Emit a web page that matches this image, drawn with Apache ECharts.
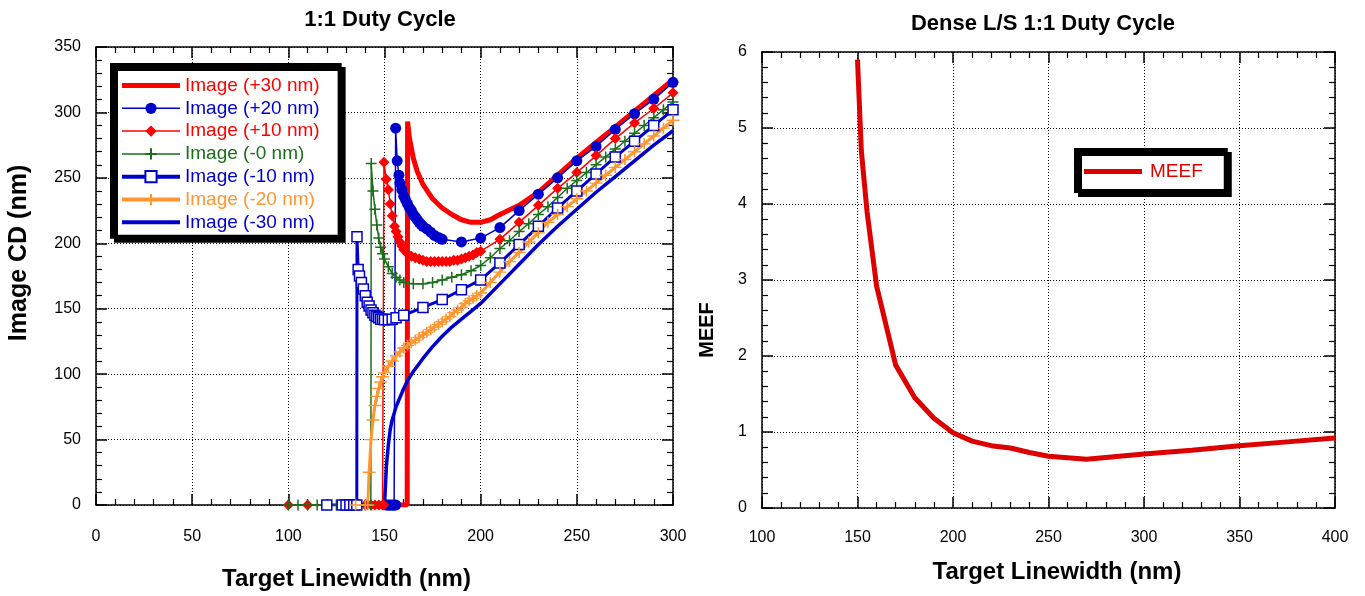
<!DOCTYPE html>
<html>
<head>
<meta charset="utf-8">
<script src="https://cdn.jsdelivr.net/npm/echarts@6/dist/echarts.min.js"></script>
<style>
  html, body { margin: 0; padding: 0; background: #ffffff; }
  #chart { width: 1365px; height: 596px; }
</style>
</head>
<body>
<div id="chart"></div>
<script>
// ---- Image CD vs target linewidth, one curve per focus offset ----
const p30X = [145, 150, 155, 161.8, 162, 163, 165, 167, 170, 175, 180, 185, 190, 195, 200, 205, 210, 220, 230, 240, 250, 260, 270, 280, 290, 300];
const p30Y = [0, 0, 0, 0, 293, 280, 265, 255, 245, 234, 227, 222, 218, 216, 216, 218, 222, 229, 239, 252, 265, 277, 289, 301, 313, 325];

const p20X = [151, 152, 153, 154, 155, 155.8, 155.8, 156.6, 157.5, 158, 159, 160, 161, 162, 163, 164, 165, 166, 167, 168, 169, 170, 172, 174, 176, 178, 180, 190, 200, 210, 220, 230, 240, 250, 260, 270, 280, 290, 300];
const p20Y = [0, 0, 0, 0, 0, 0, 288, 263, 252, 246, 241, 236, 233, 230, 227, 225, 222, 220, 218, 216, 214.5, 213, 211, 208.5, 206, 204.5, 203, 201, 204, 212, 225, 237.5, 250, 263, 274, 287, 299, 310, 323];

const p10X = [100, 110, 120, 130, 140, 143, 145, 147, 149, 149.6, 149.7, 150.9, 152, 153, 154, 155.2, 156, 157, 158, 159, 160, 162, 164, 166, 168, 170, 172, 174, 176, 178, 180, 182, 184, 186, 188, 190, 192, 194, 196, 198, 200, 210, 220, 230, 240, 250, 260, 270, 280, 290, 300];
const p10Y = [0, 0, 0, 0, 0, 0, 0, 0, 0, 0, 262, 249, 241, 230, 221, 213, 209, 205, 201, 198, 195, 192, 190, 189, 188, 187, 186, 186, 186, 186, 186, 186, 186, 187, 187, 188, 189, 190, 191, 193, 194, 203, 216, 229, 242, 254, 267, 280, 292, 303, 315];

const m0X = [100, 105, 110, 115, 120, 125, 130, 135, 140, 142.9, 143.1, 144, 145, 146, 147, 148, 149, 150, 152, 154, 156, 158, 160, 165, 170, 175, 180, 185, 190, 195, 200, 205, 210, 215, 220, 225, 230, 235, 240, 245, 250, 255, 260, 265, 270, 275, 280, 285, 290, 295, 300];
const m0Y = [0, 0, 0, 0, 0, 0, 0, 0, 0, 0, 261, 240, 226, 214, 204, 197, 192, 188, 182, 177, 174, 172, 170, 169, 169, 170, 172, 174, 176, 179, 183, 189, 196, 202, 209, 215, 222, 228, 235, 242, 248, 254, 260, 266, 272, 278, 284, 290, 296, 302, 308];

const m10X = [120, 128, 130, 132, 134, 135.6, 135.7, 136.3, 137, 138, 139, 140, 141, 142, 143, 144, 145, 146, 147, 148, 149, 150, 152, 154, 156, 160, 170, 180, 190, 200, 210, 220, 230, 240, 250, 260, 270, 280, 290, 300];
const m10Y = [0, 0, 0, 0, 0, 0, 205, 180, 175, 170, 165, 160, 155, 152, 149, 147, 145, 144, 143, 142, 142, 141.5, 141.5, 142, 143, 145, 151, 157, 164.5, 172, 185, 199, 213, 227, 240, 253, 266, 278, 290, 302];

const m20X = [135, 140, 141.3, 142, 143, 144, 145, 146, 147, 148, 149, 150, 152, 154, 156, 158, 160, 162, 164, 166, 168, 170, 172, 174, 176, 178, 180, 182, 184, 186, 188, 190, 192, 194, 196, 198, 200, 205, 210, 215, 220, 225, 230, 235, 240, 245, 250, 255, 260, 265, 270, 275, 280, 285, 290, 295, 300];
const m20Y = [0, 0, 0, 25, 50, 65, 76, 83, 89, 94, 98, 101, 106, 110, 114, 117, 120, 122, 124, 126, 128, 130, 132, 134, 136, 138, 140, 142, 144, 147, 149, 151, 154, 156, 158, 160, 162, 170, 178, 186, 193, 201, 208, 216, 222, 228, 234, 240, 246, 252, 258, 264, 270, 276, 282, 288, 294];

const m30X = [140, 145, 150, 150.5, 151, 152, 153, 154, 155, 156, 157, 158, 160, 162, 165, 170, 175, 180, 185, 190, 195, 200, 210, 220, 230, 240, 250, 260, 270, 280, 290, 300];
const m30Y = [0, 0, 0, 15, 30, 46, 58, 65, 70, 75, 78.5, 82, 89, 95, 102, 112, 121, 129, 136, 142, 148, 154, 169, 184, 199, 213, 226, 239, 251, 263, 275, 286];

// ---- MEEF vs target linewidth ----
const meefX = [150, 152, 155, 160, 170, 180, 190, 200, 210, 220, 230, 240, 250, 270, 300, 325, 350, 375, 400];
const meefY = [5.9, 4.7, 3.9, 2.92, 1.88, 1.45, 1.18, 0.99, 0.88, 0.82, 0.79, 0.73, 0.68, 0.64, 0.71, 0.76, 0.82, 0.87, 0.92];

const seriesNames = ['Image (+30 nm)', 'Image (+20 nm)', 'Image (+10 nm)', 'Image (-0 nm)', 'Image (-10 nm)', 'Image (-20 nm)', 'Image (-30 nm)'];

const RED = '#ff0000', BLUE = '#0000cc', GREEN = '#1b6e1b', ORANGE = '#ff9630', MEEF_RED = '#dd0000';
const FONT = "'Liberation Sans', Arial, sans-serif";
const PLUS = 'path://M0,5L10,5M5,0L5,10';
const bar = (h) => 'path://M0,0H58V' + h + 'H0Z';   // plain line swatch for marker-less curves

const zip = (xs, ys) => xs.map((x, i) => [x, ys[i]]);

function boxAxes(gridIndex, min, max, interval, isX, withLabels) {
  return {
    type: 'value', gridIndex, min, max, interval,
    axisLine: { show: true, onZero: false, lineStyle: { color: '#000', width: 1.5 } },
    axisTick: { show: true, inside: true, length: 11, lineStyle: { color: '#000', width: 1.5 } },
    minorTick: { show: true, splitNumber: 5, length: 6, lineStyle: { color: '#000', width: 1.2 } },
    axisLabel: withLabels
      ? { show: true, color: '#000', fontFamily: FONT, fontSize: 16, margin: isX ? 24 : 15 }
      : { show: false },
    splitLine: withLabels
      ? { show: true, lineStyle: { color: '#000', width: 1, type: [1, 2] } }
      : { show: false }
  };
}

const nameStyle = (size, pad) => ({ color: '#000', fontFamily: FONT, fontSize: size, fontWeight: 'bold', padding: pad });

const xA0 = Object.assign(boxAxes(0, 0, 300, 50, true, true), {
  position: 'bottom', name: 'Target Linewidth (nm)', nameLocation: 'middle', nameGap: 62, nameTextStyle: nameStyle(24, [0, 76, 0, 0])
});
const xA1 = Object.assign(boxAxes(0, 0, 300, 50, true, false), { position: 'top' });
const xA2 = Object.assign(boxAxes(1, 100, 400, 50, true, true), {
  position: 'bottom', name: 'Target Linewidth (nm)', nameLocation: 'middle', nameGap: 52, nameTextStyle: nameStyle(24, [0, 0, 0, 17])
});
xA2.axisLabel.margin = 22;
const xA3 = Object.assign(boxAxes(1, 100, 400, 50, true, false), { position: 'top' });

const yA0 = Object.assign(boxAxes(0, 0, 350, 50, false, true), {
  position: 'left', name: 'Image CD (nm)', nameLocation: 'middle', nameGap: 64, nameTextStyle: nameStyle(25, [0, 0, 0, 46])
});
const yA1 = Object.assign(boxAxes(0, 0, 350, 50, false, false), { position: 'right' });
const yA2 = Object.assign(boxAxes(1, 0, 6, 1, false, true), {
  position: 'left', name: 'MEEF', nameLocation: 'middle', nameGap: 45, nameTextStyle: nameStyle(20, [0, 100, 0, 0])
});
const yA3 = Object.assign(boxAxes(1, 0, 6, 1, false, false), { position: 'right' });

function curve(name, xs, ys, color, width, symbol, size, symbolFill, borderW) {
  return {
    name, type: 'line', xAxisIndex: 0, yAxisIndex: 0,
    data: zip(xs, ys),
    showAllSymbol: true,
    symbol: symbol || 'none',
    symbolSize: size || 0,
    lineStyle: { color, width },
    itemStyle: { color: symbolFill || color, borderColor: color, borderWidth: borderW || 0 },
    emphasis: { disabled: true },
    z: 3
  };
}

const legendColors = [RED, BLUE, RED, GREEN, BLUE, ORANGE, BLUE];
const legendWidths = [5, 1.5, 1.5, 1.5, 4, 4, 4];
const legendIcons = [bar(5), null, null, null, null, null, bar(4)];

const chart = echarts.init(document.getElementById('chart'), null, { renderer: 'canvas' });

chart.setOption({
  animation: false,
  backgroundColor: '#ffffff',
  textStyle: { fontFamily: FONT },
  title: [
    { text: '1:1 Duty Cycle', left: 375, top: 4, textAlign: 'center',
      textStyle: { fontFamily: FONT, fontSize: 22, fontWeight: 'bold', color: '#000' } },
    { text: 'Dense L/S 1:1 Duty Cycle', left: 1038, top: 8, textAlign: 'center',
      textStyle: { fontFamily: FONT, fontSize: 22, fontWeight: 'bold', color: '#000' } }
  ],
  grid: [
    { left: 96, right: 692, top: 47, bottom: 91 },
    { left: 762, right: 30, top: 52, bottom: 88 }
  ],
  xAxis: [xA0, xA1, xA2, xA3],
  yAxis: [yA0, yA1, yA2, yA3],
  legend: [
    {
      orient: 'vertical', left: 112, top: 65,
      itemWidth: 58, itemHeight: 14, itemGap: 3.8,
      padding: [11, 20, 5, 8],
      backgroundColor: '#ffffff', borderColor: '#000', borderWidth: 4,
      shadowColor: '#000', shadowBlur: 0, shadowOffsetX: 4, shadowOffsetY: 4,
      selectedMode: false,
      textStyle: { fontFamily: FONT, fontSize: 19, lineHeight: 19 },
      data: seriesNames.map((n, i) => {
        const item = { name: n, textStyle: { color: legendColors[i] }, lineStyle: { width: legendWidths[i] } };
        if (legendIcons[i]) item.icon = legendIcons[i];
        return item;
      })
    },
    {
      orient: 'vertical', left: 1076, top: 150,
      itemWidth: 58, itemHeight: 14,
      padding: [12, 23, 10, 8],
      backgroundColor: '#ffffff', borderColor: '#000', borderWidth: 4,
      shadowColor: '#000', shadowBlur: 0, shadowOffsetX: 4, shadowOffsetY: 4,
      selectedMode: false,
      textStyle: { fontFamily: FONT, fontSize: 19, lineHeight: 18, color: MEEF_RED, padding: [0, 0, 0, 3] },
      data: [{ name: 'MEEF', icon: bar(5) }]
    }
  ],
  series: [
    curve(seriesNames[0], p30X, p30Y, RED, 5),
    curve(seriesNames[1], p20X, p20Y, BLUE, 1.5, 'circle', 11, BLUE, 0),
    curve(seriesNames[2], p10X, p10Y, RED, 1.5, 'diamond', 11, RED, 0),
    curve(seriesNames[3], m0X, m0Y, GREEN, 1.5, PLUS, [11, 11], 'rgba(0,0,0,0)', 1.5),
    curve(seriesNames[4], m10X, m10Y, BLUE, 3, 'rect', 10, '#ffffff', 1.5),
    curve(seriesNames[5], m20X, m20Y, ORANGE, 3, PLUS, [13, 11], 'rgba(0,0,0,0)', 1.5),
    curve(seriesNames[6], m30X, m30Y, BLUE, 3.5),
    {
      name: 'MEEF', type: 'line', xAxisIndex: 2, yAxisIndex: 2,
      data: zip(meefX, meefY),
      symbol: 'none',
      lineStyle: { color: MEEF_RED, width: 5 },
      itemStyle: { color: MEEF_RED },
      emphasis: { disabled: true },
      z: 3
    }
  ]
});
</script>
</body>
</html>
